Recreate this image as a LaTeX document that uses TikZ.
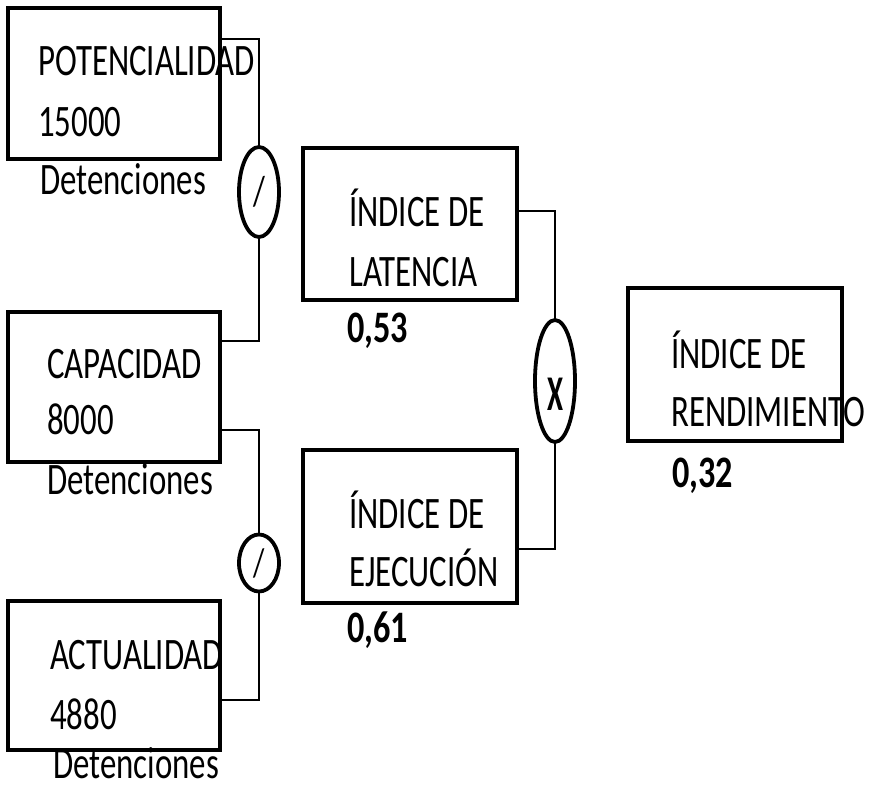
\documentclass[tikz,border=0pt]{standalone}
\usepackage{fontspec}
\setmainfont{Carlito}
\newfontfamily\regf[FakeStretch=0.73]{Carlito}
\newfontfamily\boldf[FakeStretch=0.76]{Carlito Bold}
\newfontfamily\boldx[FakeStretch=0.58]{Carlito Bold}
\usetikzlibrary{shapes.geometric}
\begin{document}
\begin{tikzpicture}[x=1pt,y=-1pt,
  box/.style={draw,line width=4pt,rectangle,inner sep=0pt,minimum width=212pt},
  op/.style={draw,line width=3.8pt,ellipse,inner sep=0pt,minimum width=40pt},
  conn/.style={line width=1.3pt},
  lbl/.style={anchor=base west,inner sep=0pt,font=\fontsize{45}{54}\regf},
  val/.style={anchor=base west,inner sep=0pt,font=\fontsize{45}{54}\boldf}]
\useasboundingbox (0,0) rectangle (876,795);
% boxes
\node[box,minimum height=151pt] (pot) at (114,83.5) {};
\node[box,minimum height=150pt] (cap) at (114,387) {};
\node[box,minimum height=149pt] (act) at (114,675.5) {};
\node[box,minimum width=214pt,minimum height=152pt] (lat) at (410,224) {};
\node[box,minimum width=214pt,minimum height=153pt] (eje) at (410,526.5) {};
\node[box,minimum width=214pt,minimum height=153pt] (ren) at (735,364.5) {};
% operators
\node[op,minimum height=90pt] (d1) at (259,192) {\fontsize{42}{50}\regf /};
\node[op,minimum height=57pt] (d2) at (259,563) {\fontsize{40}{48}\regf /};
\node[op,minimum height=122pt] (mx) at (555,381) {\raisebox{-29pt}[16pt][16pt]{\fontsize{50}{60}\boldx X}};
% texts
\node[lbl] (t1) at (38,75) {POTENCIALIDAD};
\node[lbl] (t2) at (38,136) {15000};
\node[lbl] (t3) at (40,194) {Detenciones};
\node[lbl] (t4) at (47,378) {CAPACIDAD};
\node[lbl] (t5) at (47,434) {8000};
\node[lbl] (t6) at (47,494) {Detenciones};
\node[lbl] (t7) at (50,669) {ACTUALIDAD};
\node[lbl] (t8) at (50,729) {4880};
\node[lbl] (t9) at (53,778) {Detenciones};
\node[lbl] (t10) at (349,226) {ÍNDICE DE};
\node[lbl] (t11) at (349,286) {LATENCIA};
\node[val] (v1) at (347,342) {0,53};
\node[lbl] (t12) at (349,528) {ÍNDICE DE};
\node[lbl] (t13) at (349,586) {EJECUCIÓN};
\node[val] (v2) at (347,642) {0,61};
\node[lbl] (t14) at (671,368) {ÍNDICE DE};
\node[lbl] (t15) at (671,426) {RENDIMIENTO};
\node[val] (v3) at (672,487) {0,32};
% connectors
\draw[conn] ([yshift=-33pt]pot.north east) -| (d1.north);
\draw[conn] (d1.south) |- ([yshift=-31pt]cap.north east);
\draw[conn] ([yshift=34pt]cap.south east) -| (d2.north);
\draw[conn] (d2.south) |- ([yshift=52pt]act.south east);
\draw[conn] ([yshift=-65pt]lat.north east) -| (mx.north);
\draw[conn] (mx.south) |- ([yshift=56pt]eje.south east);
\end{tikzpicture}
\end{document}
